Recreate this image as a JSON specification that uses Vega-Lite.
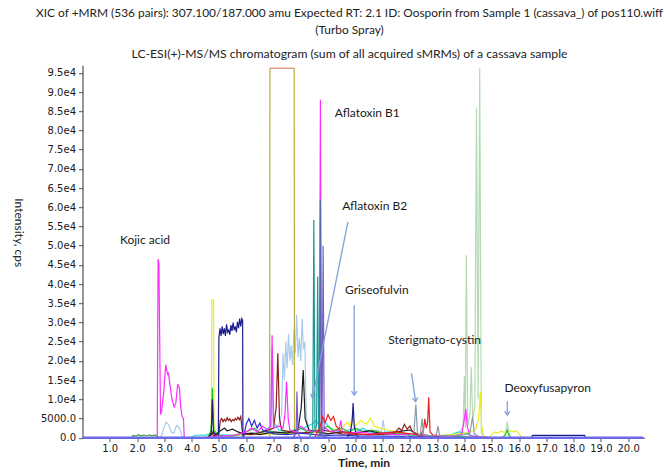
{
  "$schema": "https://vega.github.io/schema/vega-lite/v6.json",
  "width": 562,
  "height": 372.5,
  "autosize": "none",
  "padding": {"left": 82.5, "top": 65.2, "right": 19.5, "bottom": 37.3},
  "background": "white",
  "config": {"view": {"stroke": null}, "axis": {"labelOverlap": false, "labelFlush": false}},
  "title": {
    "text": ["XIC of +MRM (536 pairs): 307.100/187.000 amu Expected RT: 2.1 ID: Oosporin from Sample 1 (cassava_) of pos110.wiff", "(Turbo Spray)"],
    "subtitle": "LC-ESI(+)-MS/MS chromatogram (sum of all acquired sMRMs) of a cassava sample",
    "anchor": "middle",
    "dx": -14,
    "offset": 4,
    "font": "Lato",
    "fontSize": 11.9,
    "fontWeight": "normal",
    "color": "#222222",
    "lineHeight": 17,
    "subtitleFont": "Lato",
    "subtitleFontSize": 12.2,
    "subtitleColor": "#222222",
    "subtitlePadding": 11
  },
  "datasets": {
    "traces": [
      {"s":"lg","t":13.7,"v":0},{"s":"lg","t":13.85,"v":1500},{"s":"lg","t":13.95,"v":3000},{"s":"lg","t":14.0,"v":16000},{"s":"lg","t":14.03,"v":2500},{"s":"lg","t":14.07,"v":47500},{"s":"lg","t":14.12,"v":3000},{"s":"lg","t":14.2,"v":6000},{"s":"lg","t":14.25,"v":18500},{"s":"lg","t":14.3,"v":5000},{"s":"lg","t":14.38,"v":8000},{"s":"lg","t":14.44,"v":86000},{"s":"lg","t":14.5,"v":10000},{"s":"lg","t":14.56,"v":96200},{"s":"lg","t":14.62,"v":1000},{"s":"lg","t":14.8,"v":0},{"s":"lg","t":15.4,"v":0},{"s":"lg","t":15.5,"v":1000},{"s":"lg","t":15.57,"v":4200},{"s":"lg","t":15.64,"v":1000},{"s":"lg","t":15.7,"v":0},
      {"s":"lb","t":2.76,"v":0},{"s":"lb","t":2.9,"v":500},{"s":"lb","t":3.0,"v":3000},{"s":"lb","t":3.07,"v":4000},{"s":"lb","t":3.15,"v":3500},{"s":"lb","t":3.25,"v":1500},{"s":"lb","t":3.35,"v":1200},{"s":"lb","t":3.45,"v":3200},{"s":"lb","t":3.55,"v":2500},{"s":"lb","t":3.65,"v":500},{"s":"lb","t":3.72,"v":0},{"s":"lb","t":4.5,"v":0},{"s":"lb","t":5.0,"v":300},{"s":"lb","t":6.0,"v":800},{"s":"lb","t":6.5,"v":1500},{"s":"lb","t":6.8,"v":1200},{"s":"lb","t":7.0,"v":2500},{"s":"lb","t":7.2,"v":3500},{"s":"lb","t":7.3,"v":6000},{"s":"lb","t":7.35,"v":22000},{"s":"lb","t":7.4,"v":15000},{"s":"lb","t":7.45,"v":25000},{"s":"lb","t":7.5,"v":18000},{"s":"lb","t":7.55,"v":27000},{"s":"lb","t":7.6,"v":20000},{"s":"lb","t":7.65,"v":24000},{"s":"lb","t":7.7,"v":19000},{"s":"lb","t":7.75,"v":28000},{"s":"lb","t":7.8,"v":22000},{"s":"lb","t":7.85,"v":32000},{"s":"lb","t":7.9,"v":21000},{"s":"lb","t":7.95,"v":26000},{"s":"lb","t":8.0,"v":20000},{"s":"lb","t":8.05,"v":31000},{"s":"lb","t":8.1,"v":23000},{"s":"lb","t":8.15,"v":25000},{"s":"lb","t":8.2,"v":6000},{"s":"lb","t":8.3,"v":2000},{"s":"lb","t":8.6,"v":1500},{"s":"lb","t":9.0,"v":2000},{"s":"lb","t":9.5,"v":1500},{"s":"lb","t":10.0,"v":2500},{"s":"lb","t":10.4,"v":1800},{"s":"lb","t":10.8,"v":2000},{"s":"lb","t":10.95,"v":1500},{"s":"lb","t":11.02,"v":4600},{"s":"lb","t":11.08,"v":1200},{"s":"lb","t":11.5,"v":800},{"s":"lb","t":12.0,"v":600},{"s":"lb","t":12.5,"v":400},{"s":"lb","t":13.0,"v":0},
      {"s":"ol","t":6.86,"v":0},{"s":"ol","t":6.87,"v":96200},{"s":"ol","t":7.76,"v":96200},{"s":"ol","t":7.77,"v":0},
      {"s":"sal","t":6.88,"v":96200},{"s":"sal","t":7.75,"v":96200},
      {"s":"grn","t":1.8,"v":0},{"s":"grn","t":1.85,"v":600},{"s":"grn","t":1.95,"v":400},{"s":"grn","t":2.05,"v":800},{"s":"grn","t":2.15,"v":500},{"s":"grn","t":2.25,"v":700},{"s":"grn","t":2.35,"v":450},{"s":"grn","t":2.45,"v":750},{"s":"grn","t":2.55,"v":500},{"s":"grn","t":2.65,"v":700},{"s":"grn","t":2.72,"v":400},{"s":"grn","t":2.75,"v":0},
      {"s":"cy","t":3.95,"v":0},{"s":"cy","t":4.1,"v":500},{"s":"cy","t":4.3,"v":700},{"s":"cy","t":4.5,"v":600},{"s":"cy","t":4.7,"v":1200},{"s":"cy","t":4.76,"v":7000},{"s":"cy","t":4.82,"v":1500},{"s":"cy","t":5.0,"v":800},{"s":"cy","t":5.5,"v":600},{"s":"cy","t":6.0,"v":900},{"s":"cy","t":6.3,"v":1200},{"s":"cy","t":6.6,"v":1500},{"s":"cy","t":6.9,"v":3000},{"s":"cy","t":6.96,"v":23000},{"s":"cy","t":7.0,"v":4000},{"s":"cy","t":7.2,"v":2000},{"s":"cy","t":7.5,"v":1500},{"s":"cy","t":7.8,"v":1800},{"s":"cy","t":8.1,"v":2500},{"s":"cy","t":8.4,"v":3500},{"s":"cy","t":8.55,"v":4500},{"s":"cy","t":8.7,"v":3000},{"s":"cy","t":8.85,"v":4500},{"s":"cy","t":9.0,"v":3000},{"s":"cy","t":9.2,"v":2000},{"s":"cy","t":9.5,"v":1500},{"s":"cy","t":9.9,"v":1200},{"s":"cy","t":10.3,"v":2500},{"s":"cy","t":10.5,"v":1500},{"s":"cy","t":10.9,"v":1200},{"s":"cy","t":11.2,"v":1500},{"s":"cy","t":11.6,"v":1200},{"s":"cy","t":12.0,"v":1000},{"s":"cy","t":12.5,"v":600},{"s":"cy","t":13.0,"v":500},{"s":"cy","t":13.5,"v":800},{"s":"cy","t":13.8,"v":1500},{"s":"cy","t":14.0,"v":1200},{"s":"cy","t":14.3,"v":500},{"s":"cy","t":14.6,"v":0},
      {"s":"yl","t":4.5,"v":0},{"s":"yl","t":4.65,"v":800},{"s":"yl","t":4.72,"v":2000},{"s":"yl","t":4.74,"v":35900},{"s":"yl","t":4.8,"v":35900},{"s":"yl","t":4.82,"v":2000},{"s":"yl","t":4.9,"v":800},{"s":"yl","t":5.2,"v":500},{"s":"yl","t":6.0,"v":800},{"s":"yl","t":7.0,"v":1000},{"s":"yl","t":8.0,"v":1200},{"s":"yl","t":9.0,"v":1500},{"s":"yl","t":9.5,"v":2500},{"s":"yl","t":9.7,"v":4000},{"s":"yl","t":9.8,"v":3000},{"s":"yl","t":9.9,"v":5500},{"s":"yl","t":10.0,"v":3000},{"s":"yl","t":10.2,"v":4500},{"s":"yl","t":10.4,"v":3500},{"s":"yl","t":10.55,"v":5000},{"s":"yl","t":10.7,"v":3000},{"s":"yl","t":10.9,"v":2500},{"s":"yl","t":11.2,"v":2000},{"s":"yl","t":11.5,"v":1500},{"s":"yl","t":12.0,"v":1000},{"s":"yl","t":12.5,"v":600},{"s":"yl","t":13.0,"v":500},{"s":"yl","t":13.5,"v":800},{"s":"yl","t":14.0,"v":1200},{"s":"yl","t":14.4,"v":2000},{"s":"yl","t":14.52,"v":5000},{"s":"yl","t":14.58,"v":12000},{"s":"yl","t":14.63,"v":3000},{"s":"yl","t":14.7,"v":500},{"s":"yl","t":14.9,"v":0},{"s":"yl","t":15.0,"v":800},{"s":"yl","t":15.1,"v":1500},{"s":"yl","t":15.2,"v":1200},{"s":"yl","t":15.35,"v":1700},{"s":"yl","t":15.5,"v":1300},{"s":"yl","t":15.65,"v":1800},{"s":"yl","t":15.8,"v":1500},{"s":"yl","t":15.9,"v":1800},{"s":"yl","t":16.0,"v":1000},{"s":"yl","t":16.1,"v":0},
      {"s":"gn","t":4.6,"v":0},{"s":"gn","t":4.72,"v":2000},{"s":"gn","t":4.76,"v":13000},{"s":"gn","t":4.81,"v":2000},{"s":"gn","t":5.0,"v":600},{"s":"gn","t":5.5,"v":400},{"s":"gn","t":6.0,"v":1500},{"s":"gn","t":6.3,"v":2500},{"s":"gn","t":6.5,"v":1200},{"s":"gn","t":6.8,"v":2000},{"s":"gn","t":7.0,"v":1200},{"s":"gn","t":7.5,"v":1500},{"s":"gn","t":8.0,"v":2500},{"s":"gn","t":8.3,"v":1200},{"s":"gn","t":8.6,"v":2000},{"s":"gn","t":9.0,"v":3000},{"s":"gn","t":9.2,"v":1800},{"s":"gn","t":9.5,"v":2500},{"s":"gn","t":9.8,"v":1500},{"s":"gn","t":10.0,"v":2500},{"s":"gn","t":10.3,"v":1500},{"s":"gn","t":10.6,"v":2000},{"s":"gn","t":11.0,"v":1200},{"s":"gn","t":11.5,"v":1000},{"s":"gn","t":12.0,"v":800},{"s":"gn","t":12.5,"v":600},{"s":"gn","t":13.0,"v":400},{"s":"gn","t":14.0,"v":300},{"s":"gn","t":14.5,"v":0},{"s":"gn","t":15.4,"v":0},{"s":"gn","t":15.5,"v":800},{"s":"gn","t":15.57,"v":2000},{"s":"gn","t":15.62,"v":800},{"s":"gn","t":15.7,"v":0},
      {"s":"bk","t":4.6,"v":0},{"s":"bk","t":4.8,"v":1200},{"s":"bk","t":4.9,"v":800},{"s":"bk","t":5.0,"v":1500},{"s":"bk","t":5.2,"v":2500},{"s":"bk","t":5.3,"v":1800},{"s":"bk","t":5.5,"v":2200},{"s":"bk","t":5.7,"v":1500},{"s":"bk","t":5.9,"v":1000},{"s":"bk","t":6.2,"v":1200},{"s":"bk","t":6.5,"v":800},{"s":"bk","t":7.0,"v":1500},{"s":"bk","t":7.5,"v":1200},{"s":"bk","t":7.9,"v":2000},{"s":"bk","t":8.02,"v":8000},{"s":"bk","t":8.09,"v":17600},{"s":"bk","t":8.16,"v":5000},{"s":"bk","t":8.3,"v":2000},{"s":"bk","t":8.6,"v":1500},{"s":"bk","t":9.0,"v":1000},{"s":"bk","t":9.5,"v":1500},{"s":"bk","t":10.0,"v":1200},{"s":"bk","t":10.5,"v":1800},{"s":"bk","t":11.0,"v":1000},{"s":"bk","t":11.5,"v":1500},{"s":"bk","t":12.0,"v":2000},{"s":"bk","t":12.3,"v":800},{"s":"bk","t":12.8,"v":400},{"s":"bk","t":13.2,"v":0},
      {"s":"dr","t":4.6,"v":0},{"s":"dr","t":4.75,"v":1500},{"s":"dr","t":4.8,"v":500},{"s":"dr","t":5.0,"v":1000},{"s":"dr","t":5.05,"v":4500},{"s":"dr","t":5.1,"v":5000},{"s":"dr","t":5.15,"v":4200},{"s":"dr","t":5.2,"v":4800},{"s":"dr","t":5.25,"v":4300},{"s":"dr","t":5.3,"v":5200},{"s":"dr","t":5.35,"v":4500},{"s":"dr","t":5.4,"v":4900},{"s":"dr","t":5.45,"v":4200},{"s":"dr","t":5.5,"v":4700},{"s":"dr","t":5.55,"v":4400},{"s":"dr","t":5.6,"v":5000},{"s":"dr","t":5.65,"v":4600},{"s":"dr","t":5.7,"v":5300},{"s":"dr","t":5.75,"v":4700},{"s":"dr","t":5.8,"v":5500},{"s":"dr","t":5.87,"v":1000},{"s":"dr","t":6.2,"v":800},{"s":"dr","t":6.6,"v":1500},{"s":"dr","t":7.0,"v":2500},{"s":"dr","t":7.1,"v":8000},{"s":"dr","t":7.16,"v":22000},{"s":"dr","t":7.22,"v":5000},{"s":"dr","t":7.3,"v":2000},{"s":"dr","t":7.6,"v":1500},{"s":"dr","t":8.0,"v":1200},{"s":"dr","t":8.4,"v":1500},{"s":"dr","t":8.8,"v":2000},{"s":"dr","t":9.5,"v":1000},{"s":"dr","t":10.5,"v":800},{"s":"dr","t":11.4,"v":1000},{"s":"dr","t":11.6,"v":2500},{"s":"dr","t":11.7,"v":1800},{"s":"dr","t":11.8,"v":3500},{"s":"dr","t":11.9,"v":2200},{"s":"dr","t":12.0,"v":3000},{"s":"dr","t":12.1,"v":1500},{"s":"dr","t":12.3,"v":500},{"s":"dr","t":12.6,"v":0},
      {"s":"bl","t":5.9,"v":0},{"s":"bl","t":6.0,"v":3500},{"s":"bl","t":6.1,"v":5000},{"s":"bl","t":6.2,"v":3000},{"s":"bl","t":6.3,"v":4500},{"s":"bl","t":6.4,"v":2500},{"s":"bl","t":6.5,"v":3800},{"s":"bl","t":6.6,"v":2000},{"s":"bl","t":6.8,"v":1500},{"s":"bl","t":7.0,"v":1000},{"s":"bl","t":7.5,"v":800},{"s":"bl","t":8.0,"v":1200},{"s":"bl","t":8.5,"v":800},{"s":"bl","t":9.0,"v":600},{"s":"bl","t":9.5,"v":700},{"s":"bl","t":10.0,"v":500},{"s":"bl","t":11.0,"v":400},{"s":"bl","t":12.0,"v":300},{"s":"bl","t":13.0,"v":0},
      {"s":"nv","t":4.6,"v":0},{"s":"nv","t":4.72,"v":1000},{"s":"nv","t":4.76,"v":10000},{"s":"nv","t":4.8,"v":1500},{"s":"nv","t":4.9,"v":500},{"s":"nv","t":4.98,"v":0},{"s":"nv","t":5.0,"v":26000},{"s":"nv","t":5.04,"v":28500},{"s":"nv","t":5.08,"v":26500},{"s":"nv","t":5.12,"v":29000},{"s":"nv","t":5.16,"v":27000},{"s":"nv","t":5.2,"v":28500},{"s":"nv","t":5.24,"v":26500},{"s":"nv","t":5.28,"v":29500},{"s":"nv","t":5.32,"v":27500},{"s":"nv","t":5.36,"v":28000},{"s":"nv","t":5.4,"v":26800},{"s":"nv","t":5.44,"v":29300},{"s":"nv","t":5.48,"v":27800},{"s":"nv","t":5.52,"v":30000},{"s":"nv","t":5.56,"v":28000},{"s":"nv","t":5.6,"v":29000},{"s":"nv","t":5.64,"v":27500},{"s":"nv","t":5.68,"v":30200},{"s":"nv","t":5.72,"v":28500},{"s":"nv","t":5.76,"v":31000},{"s":"nv","t":5.8,"v":29000},{"s":"nv","t":5.84,"v":31000},{"s":"nv","t":5.87,"v":30500},{"s":"nv","t":5.88,"v":0},{"s":"nv","t":9.7,"v":0},{"s":"nv","t":9.82,"v":1500},{"s":"nv","t":9.88,"v":4000},{"s":"nv","t":9.92,"v":9000},{"s":"nv","t":9.96,"v":3000},{"s":"nv","t":10.05,"v":500},{"s":"nv","t":10.2,"v":0},{"s":"nv","t":16.45,"v":0},{"s":"nv","t":16.5,"v":600},{"s":"nv","t":18.4,"v":600},{"s":"nv","t":18.45,"v":0},
      {"s":"kj","t":2.74,"v":0},{"s":"kj","t":2.77,"v":46500},{"s":"kj","t":2.8,"v":45500},{"s":"kj","t":2.86,"v":6000},{"s":"kj","t":2.9,"v":7000},{"s":"kj","t":2.98,"v":12000},{"s":"kj","t":3.05,"v":19000},{"s":"kj","t":3.12,"v":16500},{"s":"kj","t":3.15,"v":16800},{"s":"kj","t":3.2,"v":14000},{"s":"kj","t":3.28,"v":10000},{"s":"kj","t":3.36,"v":8000},{"s":"kj","t":3.42,"v":9000},{"s":"kj","t":3.49,"v":14000},{"s":"kj","t":3.55,"v":13000},{"s":"kj","t":3.6,"v":8000},{"s":"kj","t":3.65,"v":5500},{"s":"kj","t":3.7,"v":5000},{"s":"kj","t":3.73,"v":0},
      {"s":"mg","t":4.5,"v":0},{"s":"mg","t":4.8,"v":300},{"s":"mg","t":5.2,"v":500},{"s":"mg","t":5.6,"v":700},{"s":"mg","t":6.0,"v":1500},{"s":"mg","t":6.2,"v":2500},{"s":"mg","t":6.4,"v":1500},{"s":"mg","t":6.6,"v":3000},{"s":"mg","t":6.8,"v":2000},{"s":"mg","t":6.9,"v":3000},{"s":"mg","t":6.95,"v":26700},{"s":"mg","t":7.0,"v":2500},{"s":"mg","t":7.2,"v":3000},{"s":"mg","t":7.35,"v":2500},{"s":"mg","t":7.42,"v":6000},{"s":"mg","t":7.48,"v":14600},{"s":"mg","t":7.54,"v":5000},{"s":"mg","t":7.6,"v":2000},{"s":"mg","t":7.8,"v":1500},{"s":"mg","t":8.0,"v":3000},{"s":"mg","t":8.2,"v":2000},{"s":"mg","t":8.5,"v":1500},{"s":"mg","t":8.68,"v":2000},{"s":"mg","t":8.72,"v":88000},{"s":"mg","t":8.76,"v":1500},{"s":"mg","t":8.9,"v":2500},{"s":"mg","t":9.1,"v":1500},{"s":"mg","t":9.4,"v":2000},{"s":"mg","t":9.47,"v":4500},{"s":"mg","t":9.52,"v":1500},{"s":"mg","t":9.8,"v":1200},{"s":"mg","t":10.2,"v":1500},{"s":"mg","t":10.6,"v":1000},{"s":"mg","t":11.0,"v":1200},{"s":"mg","t":11.5,"v":800},{"s":"mg","t":12.0,"v":1000},{"s":"mg","t":12.5,"v":600},{"s":"mg","t":13.0,"v":500},{"s":"mg","t":13.5,"v":400},{"s":"mg","t":13.9,"v":800},{"s":"mg","t":14.0,"v":5000},{"s":"mg","t":14.05,"v":7500},{"s":"mg","t":14.1,"v":3000},{"s":"mg","t":14.2,"v":500},{"s":"mg","t":14.5,"v":300},{"s":"mg","t":15.0,"v":0},
      {"s":"tl","t":8.3,"v":0},{"s":"tl","t":8.44,"v":1500},{"s":"tl","t":8.48,"v":56700},{"s":"tl","t":8.52,"v":2000},{"s":"tl","t":8.58,"v":3000},{"s":"tl","t":8.62,"v":42000},{"s":"tl","t":8.66,"v":1500},{"s":"tl","t":8.8,"v":500},{"s":"tl","t":9.0,"v":0},
      {"s":"vio","t":7.7,"v":0},{"s":"vio","t":7.83,"v":1000},{"s":"vio","t":7.86,"v":12000},{"s":"vio","t":7.9,"v":1000},{"s":"vio","t":8.0,"v":0},{"s":"vio","t":8.7,"v":0},{"s":"vio","t":8.78,"v":2000},{"s":"vio","t":8.82,"v":50000},{"s":"vio","t":8.86,"v":1500},{"s":"vio","t":8.95,"v":0},
      {"s":"stl","t":8.6,"v":0},{"s":"stl","t":8.69,"v":800},{"s":"stl","t":8.72,"v":62000},{"s":"stl","t":8.76,"v":800},{"s":"stl","t":8.85,"v":0},
      {"s":"rd","t":8.5,"v":0},{"s":"rd","t":8.7,"v":2500},{"s":"rd","t":8.8,"v":5500},{"s":"rd","t":8.9,"v":4000},{"s":"rd","t":9.0,"v":6000},{"s":"rd","t":9.1,"v":4500},{"s":"rd","t":9.2,"v":5500},{"s":"rd","t":9.3,"v":3000},{"s":"rd","t":9.5,"v":1500},{"s":"rd","t":10.0,"v":1000},{"s":"rd","t":10.5,"v":800},{"s":"rd","t":11.0,"v":1200},{"s":"rd","t":11.5,"v":1500},{"s":"rd","t":12.0,"v":1000},{"s":"rd","t":12.4,"v":800},{"s":"rd","t":12.5,"v":2000},{"s":"rd","t":12.55,"v":4900},{"s":"rd","t":12.6,"v":2500},{"s":"rd","t":12.65,"v":4000},{"s":"rd","t":12.69,"v":10500},{"s":"rd","t":12.74,"v":1500},{"s":"rd","t":12.9,"v":300},{"s":"rd","t":13.1,"v":0},
      {"s":"gy","t":11.8,"v":0},{"s":"gy","t":12.0,"v":600},{"s":"gy","t":12.15,"v":1500},{"s":"gy","t":12.22,"v":8700},{"s":"gy","t":12.28,"v":1000},{"s":"gy","t":12.38,"v":800},{"s":"gy","t":12.45,"v":5000},{"s":"gy","t":12.5,"v":800},{"s":"gy","t":12.8,"v":500},{"s":"gy","t":12.97,"v":800},{"s":"gy","t":13.03,"v":3000},{"s":"gy","t":13.09,"v":600},{"s":"gy","t":13.5,"v":400},{"s":"gy","t":14.0,"v":800},{"s":"gy","t":14.2,"v":1200},{"s":"gy","t":14.3,"v":5500},{"s":"gy","t":14.36,"v":1000},{"s":"gy","t":14.6,"v":0}
    ],
    "base": [{"t": 0, "v": 0}, {"t": 20.55, "v": 0}],
    "labels": [
      {"label": "Kojic acid", "t": 2.29, "v": 51400},
      {"label": "Aflatoxin B1", "t": 10.44, "v": 84500},
      {"label": "Aflatoxin B2", "t": 10.71, "v": 60400},
      {"label": "Griseofulvin", "t": 10.79, "v": 38500},
      {"label": "Sterigmato-cystin", "t": 12.91, "v": 25400},
      {"label": "Deoxyfusapyron", "t": 17.05, "v": 12900}
    ],
    "arrows": [
      {"a": "B2", "t": 9.73, "v": 56200, "t2": 8.43, "v2": 10300},
      {"a": "Gris", "t": 9.96, "v": 34500, "t2": 9.96, "v2": 11100},
      {"a": "Ster", "t": 12.06, "v": 16800, "t2": 12.21, "v2": 9400},
      {"a": "Deoxy", "t": 15.57, "v": 9500, "t2": 15.57, "v2": 5900}
    ]
  },
  "encoding": {
    "x": {"field": "t", "type": "quantitative", "scale": {"domain": [0, 20.6], "nice": false, "zero": false},
      "axis": {"title": "Time, min", "titleFont": "Lato", "titleFontSize": 12, "titleFontWeight": "bold", "titleColor": "#222222", "titlePadding": 4,
        "values": [1,2,3,4,5,6,7,8,9,10,11,12,13,14,15,16,17,18,19,20],
        "format": ".1f", "labelOverlap": false, "labelFont": "DejaVu Sans", "labelFontSize": 10, "labelColor": "#1a1a1a", "labelPadding": 2,
        "tickSize": 4, "tickColor": "#555555", "domainColor": "#444444", "grid": false}},
    "y": {"field": "v", "type": "quantitative", "scale": {"domain": [0, 97000], "nice": false},
      "axis": {"title": "Intensity, cps", "titleFont": "Lato", "titleFontSize": 12, "titleFontWeight": "normal", "titleColor": "#222222",
        "titleAngle": 90, "titleX": -64.5, "titleY": 167, "titleAlign": "center", "titleBaseline": "middle",
        "values": [0,5000,10000,15000,20000,25000,30000,35000,40000,45000,50000,55000,60000,65000,70000,75000,80000,85000,90000,95000],
        "labelExpr": "datum.value === 0 ? '0.0' : datum.value < 10000 ? format(datum.value, '.1f') : format(datum.value / 10000, '.1f') + 'e4'",
        "labelOverlap": false, "labelFont": "DejaVu Sans", "labelFontSize": 10, "labelColor": "#1a1a1a", "labelPadding": 3,
        "tickSize": 4, "tickColor": "#555555", "domainColor": "#333333", "grid": false}}
  },
  "layer": [
    {
      "data": {"name": "traces"},
      "mark": {"type": "line", "strokeWidth": 1.2, "clip": true},
      "encoding": {
        "color": {"field": "s", "type": "nominal", "legend": null,
          "scale": {
            "domain": ["lg","lb","ol","sal","grn","cy","yl","gn","bk","dr","bl","nv","kj","mg","tl","vio","stl","rd","gy"],
            "range": ["#b3dbb3","#a9cbee","#b8ae3e","#f28a8a","#3f9a3f","#22dede","#eded1c","#22c822","#1c1c1c","#8e1c1c","#2b2bcf","#1c1c8c","#ff2cff","#ff2cff","#1a9696","#7b5ad0","#5868a8","#ee2020","#8a9aaa"]}},
        "order": {"value": null}
      }
    },
    {
      "data": {"name": "base"},
      "mark": {"type": "line", "strokeWidth": 2.5, "color": "#6a6ae8"},
      "encoding": {}
    },
    {
      "data": {"name": "arrows"},
      "mark": {"type": "rule", "color": "#7ca3d8", "strokeWidth": 1.3},
      "encoding": {
        "x2": {"field": "t2"},
        "y2": {"field": "v2"}
      }
    },
    {
      "data": {"name": "arrows"},
      "transform": [{"filter": "datum.a === 'Gris' || datum.a === 'Deoxy'"}],
      "mark": {"type": "point", "shape": "M-0.7,-1L0,0L0.7,-1", "filled": false, "stroke": "#7ca3d8", "strokeWidth": 1.3, "size": 60, "opacity": 1},
      "encoding": {
        "x": {"field": "t2", "type": "quantitative"},
        "y": {"field": "v2", "type": "quantitative"}
      }
    },
    {
      "data": {"name": "arrows"},
      "transform": [{"filter": "datum.a === 'B2'"}],
      "mark": {"type": "point", "shape": "M-0.7,-1L0,0L0.7,-1", "filled": false, "stroke": "#7ca3d8", "strokeWidth": 1.3, "size": 60, "opacity": 1, "angle": 11.4},
      "encoding": {
        "x": {"field": "t2", "type": "quantitative"},
        "y": {"field": "v2", "type": "quantitative"}
      }
    },
    {
      "data": {"name": "arrows"},
      "transform": [{"filter": "datum.a === 'Ster'"}],
      "mark": {"type": "point", "shape": "M-0.7,-1L0,0L0.7,-1", "filled": false, "stroke": "#7ca3d8", "strokeWidth": 1.3, "size": 60, "opacity": 1, "angle": -7.9},
      "encoding": {
        "x": {"field": "t2", "type": "quantitative"},
        "y": {"field": "v2", "type": "quantitative"}
      }
    },
    {
      "data": {"name": "labels"},
      "mark": {"type": "text", "font": "Lato", "fontSize": 12, "color": "#1a1a1a", "align": "center", "baseline": "middle"},
      "encoding": {
        "text": {"field": "label"}
      }
    }
  ]
}
